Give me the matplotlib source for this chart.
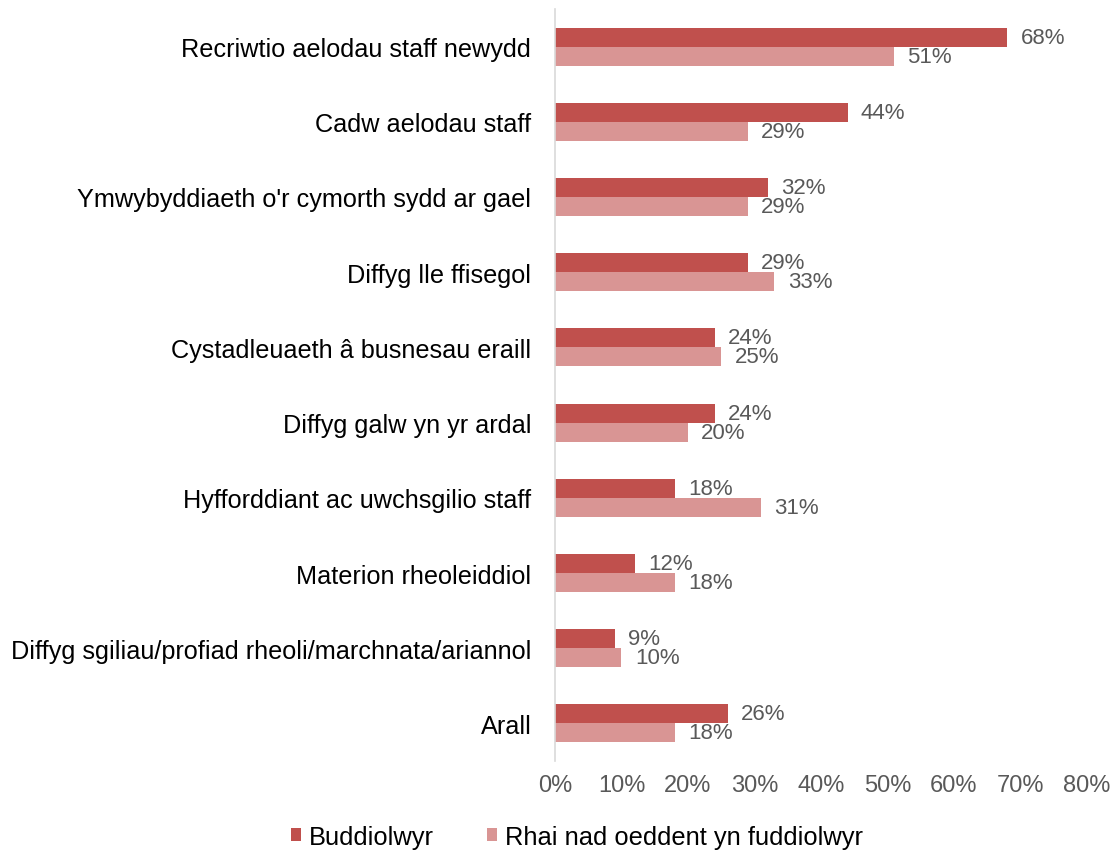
import matplotlib
matplotlib.use("Agg")
import matplotlib.pyplot as plt
import numpy as np

plt.rcParams['font.family'] = ['Liberation Sans', 'DejaVu Sans']

categories = [
    "Recriwtio aelodau staff newydd",
    "Cadw aelodau staff",
    "Ymwybyddiaeth o'r cymorth sydd ar gael",
    "Diffyg lle ffisegol",
    "Cystadleuaeth â busnesau eraill",
    "Diffyg galw yn yr ardal",
    "Hyfforddiant ac uwchsgilio staff",
    "Materion rheoleiddiol",
    "Diffyg sgiliau/profiad rheoli/marchnata/ariannol",
    "Arall",
]
buddiolwyr = [68, 44, 32, 29, 24, 24, 18, 12, 9, 26]
nad_buddiolwyr = [51, 29, 29, 33, 25, 20, 31, 18, 10, 18]
series_names = ["Buddiolwyr", "Rhai nad oeddent yn fuddiolwyr"]
xticks = [0, 10, 20, 30, 40, 50, 60, 70, 80]

c_dark = "#C0504D"
c_light = "#D99594"
grey = "#595959"

fig = plt.figure(figsize=(11.2, 8.54), dpi=100)
ax = fig.add_axes([0.4955, 0.1077, 0.475, 0.8806])

y = np.arange(len(categories))
h = 0.253
b1 = ax.barh(y - h/2, buddiolwyr, height=h, color=c_dark, label=series_names[0])
b2 = ax.barh(y + h/2, nad_buddiolwyr, height=h, color=c_light, label=series_names[1])

for yy, v in zip(y - h/2, buddiolwyr):
    ax.text(v + 2.0, yy, f"{v}%", va='center', ha='left', fontsize=16, color=grey)
for yy, v in zip(y + h/2, nad_buddiolwyr):
    ax.text(v + 2.0, yy, f"{v}%", va='center', ha='left', fontsize=16, color=grey)

ax.set_ylim(len(categories) - 0.5, -0.5)
ax.set_xlim(0, 80)
ax.set_yticks(y)
ax.set_yticklabels(categories, fontsize=18.2, color='black')
ax.set_xticks(xticks)
ax.set_xticklabels([f"{t}%" for t in xticks], fontsize=17, color=grey)
ax.tick_params(axis='both', length=0)
ax.tick_params(axis='y', pad=17)
ax.tick_params(axis='x', pad=9)
for s in ['top', 'right', 'bottom']:
    ax.spines[s].set_visible(False)
ax.spines['left'].set_color('#D9D9D9')
ax.spines['left'].set_linewidth(1.2)

fig.legend(handles=[b1, b2], labels=series_names, loc='center', bbox_to_anchor=(0.515, 0.019),
           ncol=2, frameon=False, fontsize=18.4, handlelength=0.4, handleheight=0.4,
           handletextpad=0.3, columnspacing=2.1)

fig.savefig("out.png", dpi=100)
